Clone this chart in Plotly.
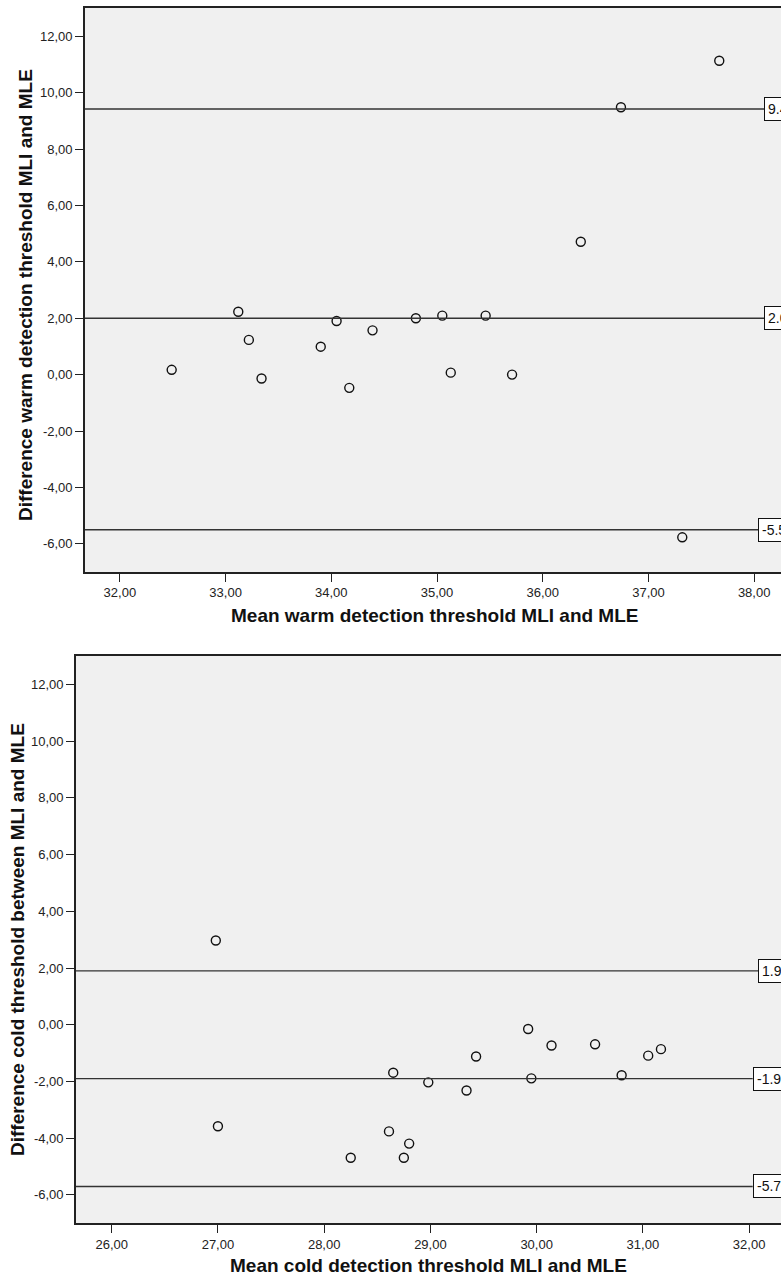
import plotly.graph_objects as go

# ---------------- data ----------------
warm_mean = [32.49, 33.12, 33.22, 33.34, 33.90, 34.05, 34.17, 34.39, 34.80,
             35.05, 35.46, 35.13, 35.71, 37.32, 37.67, 36.74, 36.36]
warm_diff = [0.17, 2.23, 1.23, -0.14, 0.99, 1.90, -0.47, 1.57, 2.00,
             2.09, 2.09, 0.07, 0.00, -5.77, 11.13, 9.48, 4.71]
warm_lines = [9.42, 2.00, -5.50]

cold_mean = [26.98, 27.00, 28.25, 28.61, 28.65, 28.80, 28.75, 28.98, 29.34,
             29.43, 29.92, 29.95, 30.14, 30.55, 30.80, 31.05, 31.17]
cold_diff = [2.97, -3.58, -4.69, -3.76, -1.69, -4.19, -4.69, -2.03, -2.32,
             -1.12, -0.15, -1.89, -0.73, -0.69, -1.78, -1.09, -0.86]
cold_lines = [1.90, -1.90, -5.70]

y_ticks = [-6, -4, -2, 0, 2, 4, 6, 8, 10, 12]
y_ticktext = ["-6,00", "-4,00", "-2,00", "0,00", "2,00", "4,00", "6,00", "8,00", "10,00", "12,00"]
warm_xticks = [32, 33, 34, 35, 36, 37, 38]
warm_xticktext = ["32,00", "33,00", "34,00", "35,00", "36,00", "37,00", "38,00"]
cold_xticks = [26, 27, 28, 29, 30, 31, 32]
cold_xticktext = ["26,00", "27,00", "28,00", "29,00", "30,00", "31,00", "32,00"]

warm_xtitle = "Mean warm detection threshold MLI and MLE"
warm_ytitle = "Difference warm detection threshold MLI and MLE"
cold_xtitle = "Mean cold detection threshold MLI and MLE"
cold_ytitle = "Difference cold threshold between MLI and MLE"

# ---------------- layout geometry ----------------
W, H = 781, 1277
FONT = "Liberation Sans, Arial, sans-serif"
BG = "#F0F0F0"

top_px = dict(left=85, top=8, bottom=572)
bot_px = dict(left=76, top=656, bottom=1223.3)

fig = go.Figure()

marker = dict(symbol="circle-open", size=9, color="#111111", line=dict(width=1.4, color="#111111"))

fig.add_trace(go.Scatter(x=warm_mean, y=warm_diff, mode="markers", marker=marker,
                         xaxis="x", yaxis="y", showlegend=False, hoverinfo="x+y"))
fig.add_trace(go.Scatter(x=cold_mean, y=cold_diff, mode="markers", marker=marker,
                         xaxis="x2", yaxis="y2", showlegend=False, hoverinfo="x+y"))

axis_common = dict(showgrid=False, zeroline=False, showline=True, linecolor="#222222",
                   linewidth=1.6, ticks="outside", ticklen=8, tickwidth=1.4,
                   tickcolor="#222222", tickfont=dict(family=FONT, size=13, color="#222222"),
                   automargin=False, fixedrange=True)

def dom_y(p):
    return [1 - p["bottom"] / H, 1 - p["top"] / H]

fig.update_layout(
    width=W, height=H,
    margin=dict(l=0, r=0, t=0, b=0),
    paper_bgcolor="white",
    plot_bgcolor=BG,
    font=dict(family=FONT),
    xaxis=dict(domain=[top_px["left"] / W, 1], range=[31.67, 38.254], anchor="y",
               tickvals=warm_xticks, ticktext=warm_xticktext, mirror=True, **axis_common),
    yaxis=dict(domain=dom_y(top_px), range=[-7, 13], anchor="x",
               tickvals=y_ticks, ticktext=y_ticktext, **axis_common),
    xaxis2=dict(domain=[bot_px["left"] / W, 1], range=[25.664, 32.30], anchor="y2",
                tickvals=cold_xticks, ticktext=cold_xticktext, mirror=True, **axis_common),
    yaxis2=dict(domain=dom_y(bot_px), range=[-7, 13], anchor="x2",
                tickvals=y_ticks, ticktext=y_ticktext, **axis_common),
)

# reference lines with boxed labels
def add_lines(values, xref, yref, line_end_px, plot_left_px):
    span = W - plot_left_px
    for v, end_px in zip(values, line_end_px):
        fig.add_shape(type="line", xref=f"{xref} domain", yref=yref,
                      x0=0, x1=(end_px - plot_left_px) / span, y0=v, y1=v,
                      line=dict(color="#333333", width=1.4), layer="above")
        fig.add_annotation(x=end_px / W, xref="paper", y=v, yref=yref,
                           text=f"{v:.2f}", showarrow=False, xanchor="left", yanchor="middle",
                           font=dict(family=FONT, size=14, color="#111111"),
                           bgcolor="white", bordercolor="#111111", borderwidth=1,
                           borderpad=3, align="left")

add_lines(warm_lines, "x", "y", [764.3, 764.3, 758.3], top_px["left"])
add_lines(cold_lines, "x2", "y2", [758.3, 752.7, 752.7], bot_px["left"])

# axis titles as annotations
title_font = dict(family=FONT, size=19, color="#111111")
fig.add_annotation(x=434 / W, xref="paper", y=1 - 615 / H, yref="paper",
                   text=f"<b>{warm_xtitle}</b>", showarrow=False, font=title_font,
                   xanchor="center", yanchor="middle")
fig.add_annotation(x=26 / W, xref="paper", y=1 - 295 / H, yref="paper",
                   text=f"<b>{warm_ytitle}</b>", showarrow=False, font=title_font, textangle=-90,
                   xanchor="center", yanchor="middle")
fig.add_annotation(x=428 / W, xref="paper", y=1 - 1265 / H, yref="paper",
                   text=f"<b>{cold_xtitle}</b>", showarrow=False, font=title_font,
                   xanchor="center", yanchor="middle")
fig.add_annotation(x=17 / W, xref="paper", y=1 - 940 / H, yref="paper",
                   text=f"<b>{cold_ytitle}</b>", showarrow=False, font=title_font, textangle=-90,
                   xanchor="center", yanchor="middle")

fig.write_html("out.html", config={"displayModeBar": False},
               post_script="document.body.style.margin='0px';document.body.style.overflow='hidden';")
